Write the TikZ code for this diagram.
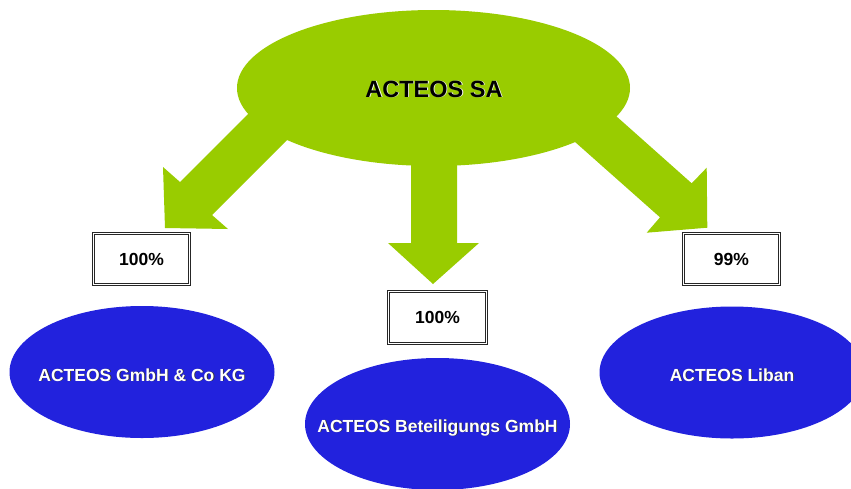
\documentclass[tikz,border=0pt]{standalone}
\usepackage{fontspec}
\setmainfont{Liberation Sans}
\usetikzlibrary{shapes.geometric}
\definecolor{acgreen}{RGB}{153,204,0}
\definecolor{acblue}{RGB}{34,34,221}
\begin{document}
\begin{tikzpicture}[x=1pt,y=-1pt,
  blockarrow/.style={fill=acgreen, draw=none},
  parent/.style={ellipse, fill=acgreen, draw=none, inner sep=0pt, minimum width=393pt, minimum height=156pt},
  child/.style={ellipse, fill=acblue, draw=none, inner sep=0pt, minimum width=265pt, minimum height=132pt},
  pctbox/.style={rectangle, draw=black!85, double=white, double distance=1.2pt, line width=0.9pt,
    minimum width=96pt, minimum height=51pt, inner sep=0pt, font=\fontsize{17.5}{21}\bfseries\selectfont},
  bigtxt/.style={anchor=base, font=\fontsize{23.5}{28}\bfseries\selectfont, inner sep=0pt},
  childtxt/.style={anchor=base, font=\fontsize{17.5}{21}\bfseries\selectfont, inner sep=0pt, text=white},
  shadowoff/.style={xshift=0.8pt, yshift=-0.8pt},
]
\fill[white] (0,0) rectangle (851,488);
\clip (0,0) rectangle (851,488);

% block arrows (drawn first, shafts hidden under the parent ellipse)
\fill[blockarrow] (280,82) -- (180,182) -- (163,167) -- (165,228) -- (228,229) -- (212,215) -- (312,115) -- cycle;
\fill[blockarrow] (411,120) -- (411,243) -- (388,243) -- (433,284) -- (479,243) -- (457,243) -- (457,120) -- cycle;
\fill[blockarrow] (602,103.5) -- (691.7,183.3) -- (706.7,167.7) -- (707.3,227.7) -- (646.7,232.7) -- (660,217.3) -- (570,137.5) -- cycle;

% parent
\node[parent] (sa) at (433.5,88) {};
\node[bigtxt, text=white, shadowoff] (sashadow) at (434,97) {ACTEOS SA};
\node[bigtxt, text=black] (satxt) at (434,97) {ACTEOS SA};

% percentage boxes
\node[pctbox] (p1) at (141.5,259) {100\%};
\node[pctbox, minimum width=98pt, minimum height=52pt] (p2) at (437.5,317.5) {100\%};
\node[pctbox] (p3) at (731.5,259) {99\%};

% subsidiaries
\node[child] (gmbh) at (142,372) {};
\node[child] (bet) at (437.5,424) {};
\node[child] (liban) at (732,372.5) {};

\node[childtxt, text=black!80, shadowoff] (gmbhs) at (142,381) {ACTEOS GmbH \& Co KG};
\node[childtxt] (gmbht) at (142,381) {ACTEOS GmbH \& Co KG};
\node[childtxt, text=black!80, shadowoff] (bets) at (437.5,432) {ACTEOS Beteiligungs GmbH};
\node[childtxt] (bett) at (437.5,432) {ACTEOS Beteiligungs GmbH};
\node[childtxt, text=black!80, shadowoff] (libans) at (732,381) {ACTEOS Liban};
\node[childtxt] (libant) at (732,381) {ACTEOS Liban};
\end{tikzpicture}
\end{document}
